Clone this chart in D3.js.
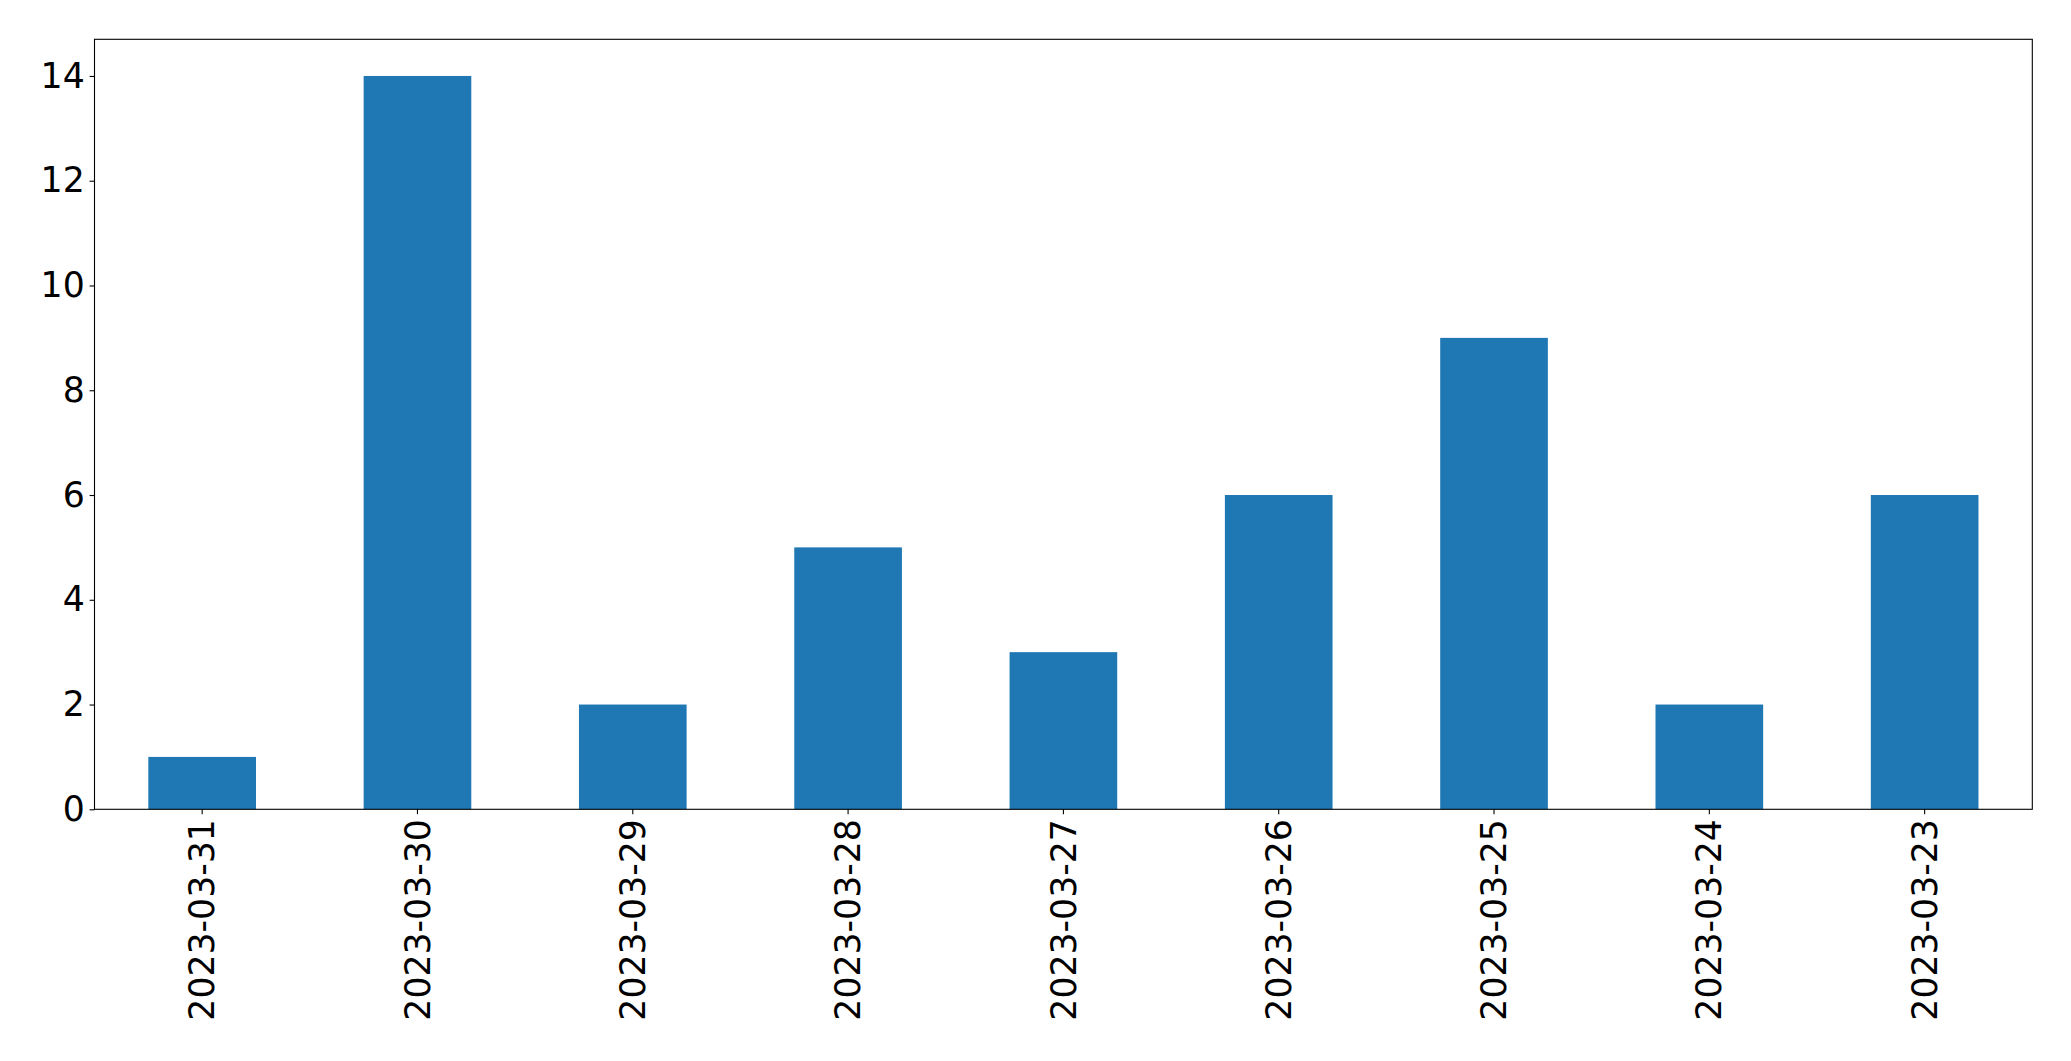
<!DOCTYPE html>
<html>
<head>
<meta charset="utf-8">
<script src="https://cdn.jsdelivr.net/npm/d3@7"></script>
<style>
    body { margin: 0; background: #fff; }
    svg text { font-family: "DejaVu Sans", sans-serif; fill: #000; }
</style>
</head>
<body>
<div id="chart"></div>
<script>
const dates = ['2023-03-31', '2023-03-30', '2023-03-29', '2023-03-28', '2023-03-27',
               '2023-03-26', '2023-03-25', '2023-03-24', '2023-03-23'];
const counts = [1, 14, 2, 5, 3, 6, 9, 2, 6];
const yTicks = [0, 2, 4, 6, 8, 10, 12, 14];

const W = 2071, H = 1061;
const margin = {top: 39.3, right: W - 2032.3, bottom: H - 809.3, left: 94.5};
const width = W - margin.left - margin.right;
const height = H - margin.top - margin.bottom;
const fontSize = 34.7;

const svg = d3.select('#chart')
    .append('svg')
    .attr('width', W)
    .attr('height', H)
    .append('g')
    .attr('transform', `translate(${margin.left},${margin.top})`);

// Escalas
const x = d3.scaleBand()
    .domain(dates)
    .range([0, width])
    .paddingInner(0.5)
    .paddingOuter(0.25);

const y = d3.scaleLinear()
    .domain([0, d3.max(counts) * 1.05])
    .range([height, 0]);

// Barras
svg.selectAll('rect.bar')
    .data(dates)
    .enter()
    .append('rect')
    .attr('class', 'bar')
    .attr('x', d => x(d))
    .attr('width', x.bandwidth())
    .attr('y', (d, i) => y(counts[i]))
    .attr('height', (d, i) => y(0) - y(counts[i]))
    .attr('fill', '#1f77b4');

// Eixos
const xAxis = svg.append('g')
    .attr('transform', `translate(0,${height})`)
    .call(d3.axisBottom(x).tickSize(4.9).tickSizeOuter(0));

xAxis.selectAll('text')
    .attr('transform', 'rotate(-90)')
    .attr('text-anchor', 'end')
    .attr('x', -9.8)
    .attr('y', 0)
    .attr('dy', '0.35em')
    .style('font-size', fontSize + 'px');

const yAxis = svg.append('g')
    .call(d3.axisLeft(y).tickValues(yTicks).tickSize(4.9).tickSizeOuter(0).tickPadding(4.9));

yAxis.selectAll('text').style('font-size', fontSize + 'px');

svg.selectAll('.domain').remove();
svg.selectAll('.tick line').attr('stroke', '#000').attr('stroke-width', 1.1);

// Moldura
svg.append('rect')
    .attr('x', 0)
    .attr('y', 0)
    .attr('width', width)
    .attr('height', height)
    .attr('fill', 'none')
    .attr('stroke', '#000')
    .attr('stroke-width', 1.1);
</script>
</body>
</html>
